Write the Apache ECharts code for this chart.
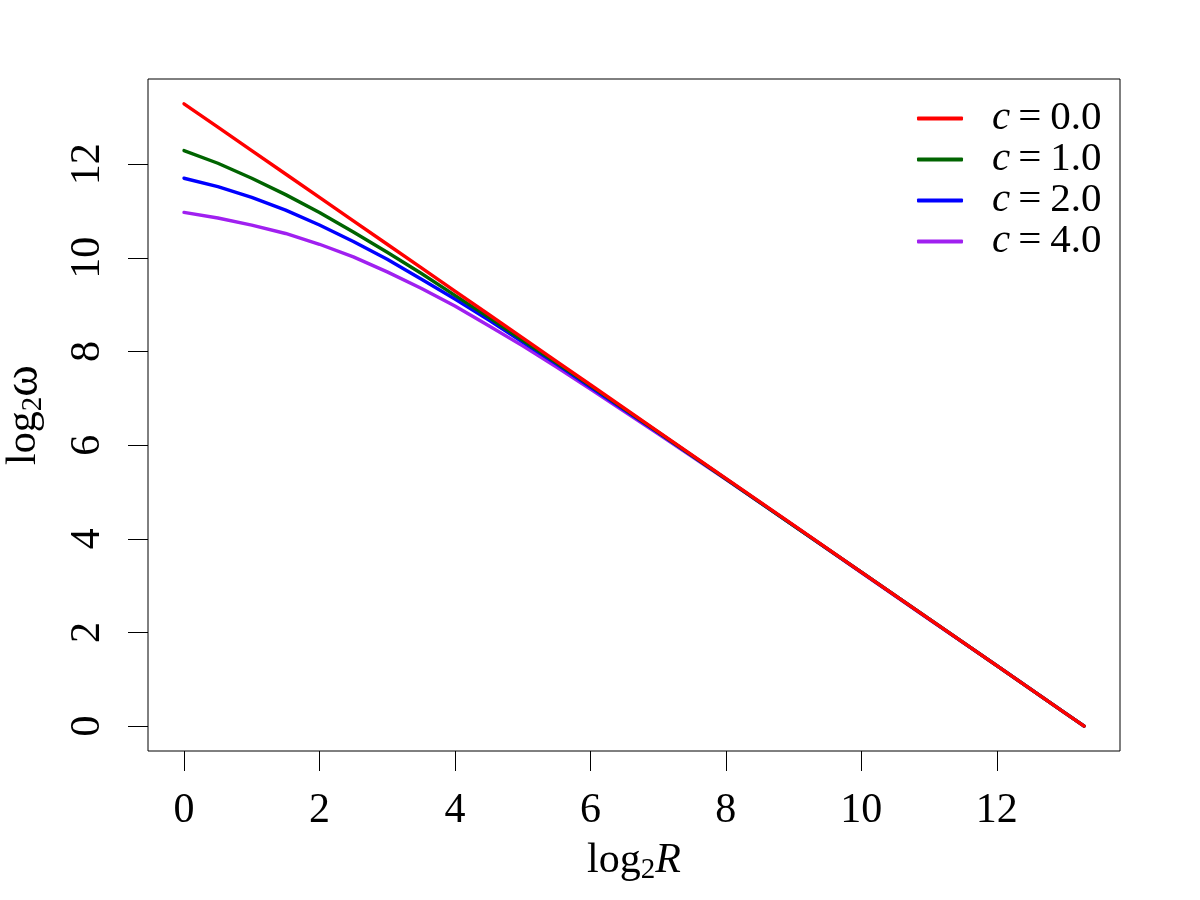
<!DOCTYPE html>
<html>
<head>
<meta charset="utf-8">
<script src="https://cdn.jsdelivr.net/npm/echarts@6/dist/echarts.min.js"></script>
<style>html,body{margin:0;padding:0;background:#fff}#c{width:1200px;height:900px}</style>
</head>
<body>
<div id="c"></div>
<script>
// log2 R positions
const xVals = [0, 0.5, 1, 1.5, 2, 2.5, 3, 3.5, 4, 4.5, 5, 5.5, 6, 7, 8, 9, 10, 11, 12, 13, 13.29];
// log2 omega for each c
const yC0 = [13.29, 12.79, 12.29, 11.79, 11.29, 10.79, 10.29, 9.79, 9.29, 8.79, 8.29, 7.79, 7.29, 6.29, 5.29, 4.29, 3.29, 2.29, 1.29, 0.29, 0.00];
const yC1 = [12.29, 12.02, 11.70, 11.35, 10.97, 10.55, 10.12, 9.67, 9.20, 8.73, 8.24, 7.76, 7.27, 6.28, 5.28, 4.28, 3.29, 2.29, 1.29, 0.29, 0.00];
const yC2 = [11.70, 11.52, 11.29, 11.02, 10.70, 10.35, 9.97, 9.55, 9.12, 8.67, 8.20, 7.73, 7.24, 6.27, 5.28, 4.28, 3.29, 2.29, 1.29, 0.29, 0.00];
const yC4 = [10.97, 10.85, 10.70, 10.52, 10.29, 10.02, 9.70, 9.35, 8.97, 8.55, 8.12, 7.67, 7.20, 6.24, 5.27, 4.28, 3.28, 2.28, 1.29, 0.29, 0.00];
const seriesNames = ['c=0.0', 'c=1.0', 'c=2.0', 'c=4.0'];
const seriesColors = ['#FF0000', '#006400', '#0000FF', '#A020F0'];
const xTicks = [0, 2, 4, 6, 8, 10, 12];
const yTicks = [0, 2, 4, 6, 8, 10, 12];

const FONT = '"Liberation Serif", "DejaVu Serif", serif';
const ys = [yC0, yC1, yC2, yC4];
const pairs = arr => xVals.map((x, i) => [x, arr[i]]);

const series = [];
for (let k = ys.length - 1; k >= 0; k--) {
  series.push({
    name: seriesNames[k],
    type: 'line',
    data: pairs(ys[k]),
    showSymbol: false,
    symbol: 'none',
    smooth: false,
    lineStyle: { color: seriesColors[k], width: 3.4, cap: 'round', join: 'round' },
    itemStyle: { color: seriesColors[k] },
    emphasis: { disabled: true }
  });
}

const nameRich = {
  a: { fontSize: 42, lineHeight: 48, fontFamily: FONT, color: '#000' },
  w: { fontSize: 48, lineHeight: 48, fontFamily: FONT, color: '#000' },
  s: { fontSize: 29, lineHeight: 28, verticalAlign: 'bottom', fontFamily: FONT, color: '#000' },
  i: { fontSize: 42, lineHeight: 48, fontStyle: 'italic', fontFamily: FONT, color: '#000' }
};

const option = {
  animation: false,
  backgroundColor: '#fff',
  grid: { left: 148, right: 80, top: 79, bottom: 149, outerBoundsMode: 'none', containLabel: false, show: true, borderColor: '#000', borderWidth: 1, backgroundColor: 'transparent' },
  legend: {
    data: seriesNames,
    orient: 'vertical',
    left: 917,
    top: 98,
    padding: 0,
    itemWidth: 46,
    itemHeight: 4,
    itemGap: 0,
    icon: 'roundRect',
    formatter: n => '{i|c}{e|=}{n|' + n.slice(2) + '}',
    textStyle: {
      fontSize: 41, lineHeight: 40, fontFamily: FONT, color: '#000',
      rich: {
        i: { fontSize: 41, lineHeight: 40, fontStyle: 'italic', fontFamily: FONT, color: '#000', padding: [0, 0, 0, 24] },
        e: { fontSize: 41, lineHeight: 40, fontFamily: FONT, color: '#000', padding: [0, 9, 0, 8] },
        n: { fontSize: 41, lineHeight: 40, fontFamily: FONT, color: '#000' }
      }
    }
  },
  xAxis: {
    type: 'value',
    min: -0.5316,
    max: 13.8192,
    splitLine: { show: false },
    axisLine: { show: false, onZero: false },
    axisTick: { show: true, length: 20, lineStyle: { color: '#000', width: 1 }, customValues: xTicks },
    axisLabel: { customValues: xTicks, fontSize: 42, fontFamily: FONT, color: '#000', margin: 60, verticalAlign: 'middle' },
    name: '{a|log}{s|2}{i|R}',
    nameLocation: 'middle',
    nameGap: 110,
    nameTextStyle: { fontSize: 42, fontFamily: FONT, color: '#000', verticalAlign: 'middle', rich: nameRich }
  },
  yAxis: {
    type: 'value',
    min: -0.5316,
    max: 13.8192,
    splitLine: { show: false },
    axisLine: { show: false, onZero: false },
    axisTick: { show: true, length: 20, lineStyle: { color: '#000', width: 1 }, customValues: yTicks },
    axisLabel: { customValues: yTicks, fontSize: 42, fontFamily: FONT, color: '#000', margin: 60, rotate: 90, align: 'center', verticalAlign: 'middle' },
    name: '{a|log}{s|2}{w|ω}',
    nameLocation: 'middle',
    nameRotate: 90,
    nameGap: 124,
    nameTextStyle: { fontSize: 42, fontFamily: FONT, color: '#000', verticalAlign: 'middle', rich: nameRich }
  },
  series: series
};

const chart = echarts.init(document.getElementById('c'), null, { renderer: 'canvas' });
chart.setOption(option);
</script>
</body>
</html>
